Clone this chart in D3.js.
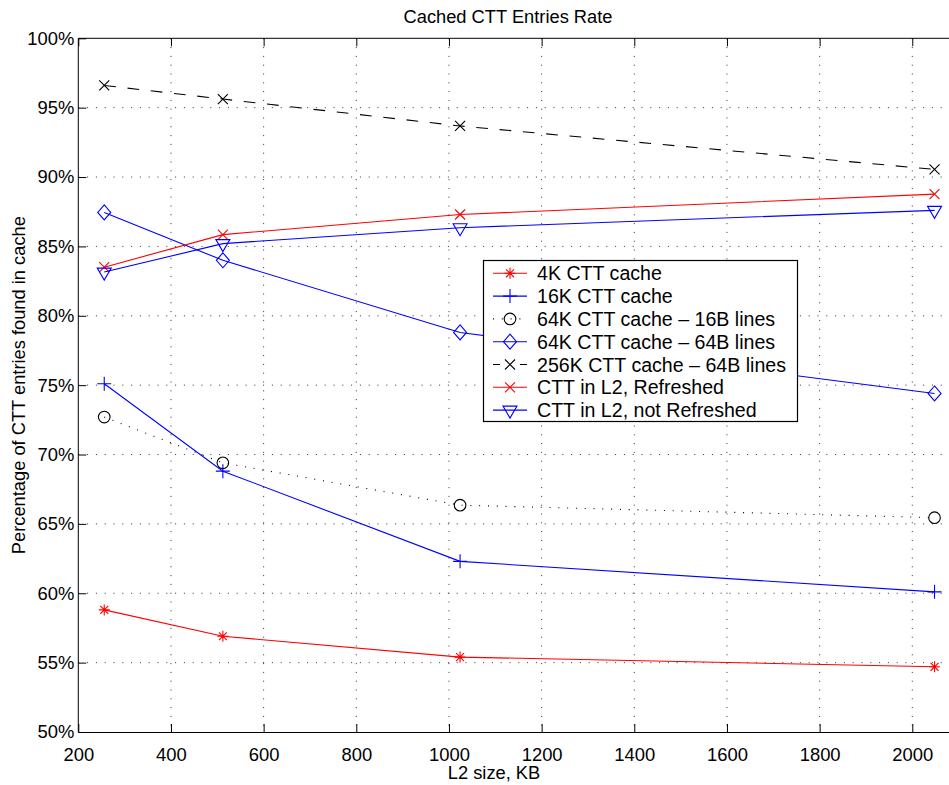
<!DOCTYPE html>
<html>
<head>
<meta charset="utf-8">
<script src="https://cdn.jsdelivr.net/npm/d3@7"></script>
<style>
  body { margin: 0; background: #fff; }
  svg text { font-family: "Liberation Sans", Arial, sans-serif; font-size: 18.4px; fill: #000; }
</style>
</head>
<body>
<div class="chart"></div>
<script>
// data
var sizes = [256, 512, 1024, 2048]
var cache4k = [58.8, 56.9, 55.4, 54.7]
var cache16k = [75.1, 68.8, 62.3, 60.1]
var cache64k16 = [72.7, 69.4, 66.35, 65.45]
var cache64k64 = [87.45, 84.0, 78.8, 74.4]
var cache256k = [96.6, 95.62, 93.68, 90.55]
var l2Refreshed = [83.5, 85.85, 87.3, 88.77]
var l2NotRefreshed = [83.15, 85.2, 86.35, 87.6]
var xTicks = [200, 400, 600, 800, 1000, 1200, 1400, 1600, 1800, 2000]
var yTicks = [50, 55, 60, 65, 70, 75, 80, 85, 90, 95, 100]

var series = [
  { name: '4K CTT cache', values: cache4k, color: '#ff0000', marker: 'star', dash: null },
  { name: '16K CTT cache', values: cache16k, color: '#0000ff', marker: 'plus', dash: null },
  { name: '64K CTT cache \u2013 16B lines', values: cache64k16, color: '#000', marker: 'circle', dash: '1,7.8' },
  { name: '64K CTT cache \u2013 64B lines', values: cache64k64, color: '#0000ff', marker: 'diamond', dash: null },
  { name: '256K CTT cache \u2013 64B lines', values: cache256k, color: '#000', marker: 'cross', dash: '11.7,11.7' },
  { name: 'CTT in L2, Refreshed', values: l2Refreshed, color: '#ff0000', marker: 'cross', dash: null },
  { name: 'CTT in L2, not Refreshed', values: l2NotRefreshed, color: '#0000ff', marker: 'tri', dash: null }
]

var W = 949, H = 785
var plotLeft = 78.3, plotTop = 38.3, plotBottom = 732

var x = d3.scaleLinear().domain([200, 2100]).range([plotLeft, plotLeft + 1900 * 0.46333])
var y = d3.scaleLinear().domain([50, 100]).range([plotBottom, plotTop])
var plotRight = x(2100)

var svg = d3.select('.chart')
  .append('svg')
    .attr('width', W)
    .attr('height', H)

// marker shapes as path strings, centred on 0,0
function markerPath (type) {
  switch (type) {
    case 'star': {
      var r = 5.5, d = r * 0.72
      return `M${-r},0L${r},0M0,${-r}L0,${r}M${-d},${-d}L${d},${d}M${-d},${d}L${d},${-d}`
    }
    case 'plus': return 'M-7,0L7,0M0,-7L0,7'
    case 'circle': return d3.symbol(d3.symbolCircle, Math.PI * 5.8 * 5.8)()
    case 'diamond': return 'M0,-7.5L6.5,0L0,7.5L-6.5,0Z'
    case 'cross': return 'M-5,-5L5,5M-5,5L5,-5'
    case 'tri': return 'M-7,-4L7,-4L0,8Z'
  }
}

// grid (dotted)
var grid = svg.append('g')
grid.selectAll('.gx')
  .data(xTicks.slice(1))
  .enter().append('line')
    .attr('x1', d => x(d)).attr('x2', d => x(d))
    .attr('y1', plotTop).attr('y2', plotBottom)
    .style('stroke', '#333').style('stroke-dasharray', '1,7.8')
grid.selectAll('.gy')
  .data(yTicks.slice(1, -1))
  .enter().append('line')
    .attr('x1', plotLeft).attr('x2', plotRight)
    .attr('y1', d => y(d)).attr('y2', d => y(d))
    .style('stroke', '#333').style('stroke-dasharray', '1,7.8')

// axes, ticks inward like the original
svg.append('g')
  .attr('transform', `translate(0,${plotBottom})`)
  .call(d3.axisBottom(x).tickValues(xTicks).tickSizeInner(-8).tickSizeOuter(0).tickPadding(16).tickFormat(d3.format('d')))
  .call(g => g.select('.domain').attr('d', `M${plotLeft},0.5H${plotRight}`))
svg.append('g')
  .attr('transform', `translate(0,${plotTop})`)
  .call(d3.axisTop(x).tickValues(xTicks).tickSizeInner(-8).tickSizeOuter(0).tickFormat(''))
  .call(g => g.select('.domain').attr('d', `M${plotLeft},0H${plotRight}`))
svg.append('g')
  .attr('transform', `translate(${plotLeft},0)`)
  .call(d3.axisLeft(y).tickValues(yTicks).tickSizeInner(-8).tickSizeOuter(0).tickPadding(4).tickFormat(d => d + '%'))
  .call(g => g.select('.domain').attr('d', `M0,${plotTop}V${plotBottom}`))

svg.selectAll('.tick text').style('font-size', '18.4px').style('font-family', '"Liberation Sans", Arial, sans-serif')
svg.selectAll('.tick line, .domain').style('stroke', '#000')

// lines
var line = d3.line().x((d, i) => x(sizes[i])).y(d => y(d))

var sg = svg.append('g').selectAll('g')
  .data(series)
  .enter().append('g')

sg.append('path')
  .attr('d', d => line(d.values))
  .style('fill', 'none')
  .style('stroke', d => d.color)
  .style('stroke-width', 1.1)
  .style('stroke-dasharray', d => d.dash)

sg.selectAll('.mk')
  .data(d => d.values.map((v, i) => ({ v: v, i: i, s: d })))
  .enter().append('path')
    .attr('transform', d => `translate(${x(sizes[d.i])},${y(d.v)})`)
    .attr('d', d => markerPath(d.s.marker))
    .style('fill', 'none')
    .style('stroke', d => d.s.color)
    .style('stroke-width', 1.1)

// legend
var lg = svg.append('g')
lg.append('rect')
  .attr('x', 483.5).attr('y', 260.5)
  .attr('width', 314).attr('height', 161)
  .style('fill', '#fff').style('stroke', '#000').style('stroke-width', 1.2)

var row = lg.selectAll('.row')
  .data(series)
  .enter().append('g')
    .attr('transform', (d, i) => `translate(0,${273.3 + i * 22.8})`)
row.append('line')
  .attr('x1', 493).attr('x2', 527)
  .style('stroke', d => d.color)
  .style('stroke-width', 1.1)
  .style('stroke-dasharray', d => d.marker === 'cross' && d.dash ? '7,20' : d.dash)
row.append('path')
  .attr('transform', 'translate(510,0)')
  .attr('d', d => markerPath(d.marker))
  .style('fill', 'none')
  .style('stroke', d => d.color)
  .style('stroke-width', 1.1)
row.append('text')
  .attr('x', 537).attr('y', 7)
  .style('font-size', '19.6px')
  .text(d => d.name)

// titles
svg.append('text')
  .attr('x', 508).attr('y', 23)
  .attr('text-anchor', 'middle')
  .style('font-size', '18.3px')
  .text('Cached CTT Entries Rate')
svg.append('text')
  .attr('x', 494).attr('y', 779)
  .attr('text-anchor', 'middle')
  .style('font-size', '18.3px')
  .text('L2 size, KB')
svg.append('text')
  .attr('transform', `translate(25,${(plotTop + plotBottom) / 2}) rotate(-90)`)
  .attr('text-anchor', 'middle')
  .style('font-size', '18.3px')
  .text('Percentage of CTT entries found in cache')
</script>
</body>
</html>
